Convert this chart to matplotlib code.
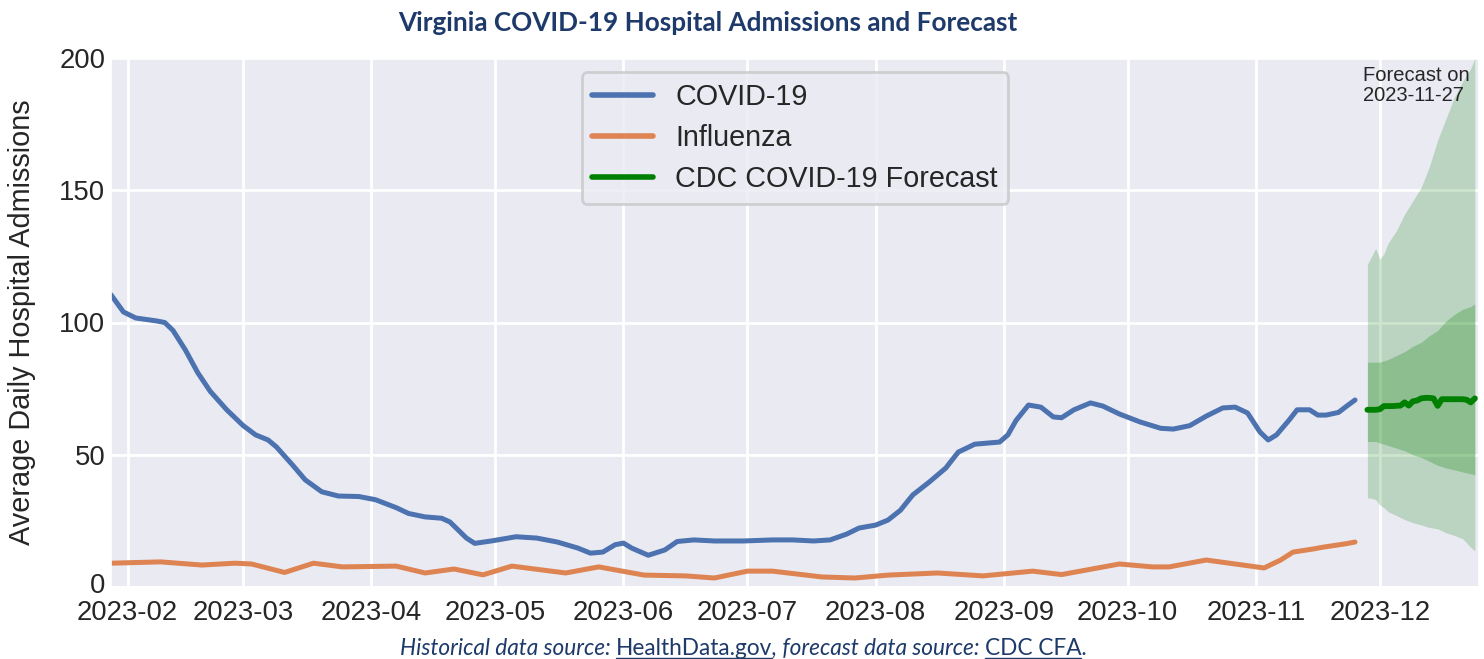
import matplotlib
matplotlib.use("Agg")
import matplotlib.pyplot as plt
import matplotlib.dates as mdates
import matplotlib.transforms as mtransforms
from matplotlib.lines import Line2D
import pandas as pd
import seaborn as sns

# ---------------- data ----------------
covid_dates = ["2023-01-28", "2023-01-31", "2023-02-03", "2023-02-08", "2023-02-10", "2023-02-12",
               "2023-02-15", "2023-02-18", "2023-02-21", "2023-02-25", "2023-03-01", "2023-03-04",
               "2023-03-07", "2023-03-09", "2023-03-13", "2023-03-16", "2023-03-20", "2023-03-24",
               "2023-03-29", "2023-04-02", "2023-04-07", "2023-04-10", "2023-04-14", "2023-04-18",
               "2023-04-20", "2023-04-24", "2023-04-26", "2023-04-30", "2023-05-06", "2023-05-11",
               "2023-05-16", "2023-05-21", "2023-05-24", "2023-05-27", "2023-05-30", "2023-06-01",
               "2023-06-03", "2023-06-07", "2023-06-11", "2023-06-14", "2023-06-18", "2023-06-23",
               "2023-06-30", "2023-07-07", "2023-07-12", "2023-07-17", "2023-07-21", "2023-07-25",
               "2023-07-28", "2023-08-01", "2023-08-04", "2023-08-07", "2023-08-10", "2023-08-14",
               "2023-08-18", "2023-08-21", "2023-08-25", "2023-08-31", "2023-09-02", "2023-09-04",
               "2023-09-07", "2023-09-10", "2023-09-13", "2023-09-15", "2023-09-18", "2023-09-22",
               "2023-09-25", "2023-09-29", "2023-10-04", "2023-10-09", "2023-10-12", "2023-10-16",
               "2023-10-20", "2023-10-24", "2023-10-27", "2023-10-30", "2023-11-02", "2023-11-04",
               "2023-11-06", "2023-11-09", "2023-11-11", "2023-11-14", "2023-11-16", "2023-11-18",
               "2023-11-21", "2023-11-23", "2023-11-25"]
covid_values = [110.5, 104, 101.7, 100.6, 100, 97,
                89.6, 81, 74, 67, 61, 57.5,
                55.6, 53, 46, 40.5, 36, 34.4,
                34.2, 33, 30, 27.8, 26.5, 26,
                24.6, 18.5, 16.5, 17.4, 19, 18.5,
                17, 14.7, 12.8, 13.2, 16, 16.6,
                14.7, 12, 14, 17.2, 17.8, 17.4,
                17.4, 17.8, 17.8, 17.4, 17.8, 20,
                22.3, 23.4, 25.3, 29, 34.8, 39.7,
                45, 51, 54, 54.8, 57.5, 63,
                68.8, 68, 64.3, 64, 67, 69.6,
                68.4, 65.4, 62.4, 60, 59.7, 61,
                64.6, 67.7, 68, 65.8, 58.6, 55.6,
                57.5, 63, 67, 67, 65, 65,
                66, 68.4, 70.7]

flu_dates = ["2023-01-28", "2023-02-09", "2023-02-19", "2023-02-27", "2023-03-03", "2023-03-11",
             "2023-03-18", "2023-03-25", "2023-04-07", "2023-04-14", "2023-04-21", "2023-04-28",
             "2023-05-05", "2023-05-18", "2023-05-26", "2023-06-06", "2023-06-16", "2023-06-23",
             "2023-07-01", "2023-07-07", "2023-07-19", "2023-07-27", "2023-08-04", "2023-08-16",
             "2023-08-27", "2023-09-08", "2023-09-15", "2023-09-29", "2023-10-07", "2023-10-11",
             "2023-10-20", "2023-11-03", "2023-11-07", "2023-11-10", "2023-11-15", "2023-11-17",
             "2023-11-23", "2023-11-25"]
flu_values = [9, 9.5, 8.3, 9, 8.7, 5.5,
              9, 7.6, 7.9, 5.3, 6.8, 4.6,
              7.9, 5.3, 7.6, 4.5, 4.2, 3.4,
              6, 6, 3.8, 3.4, 4.5, 5.3,
              4.2, 6, 4.7, 8.7, 7.6, 7.6,
              10.2, 7.2, 10.2, 13.2, 14.4, 15,
              16.4, 17]

fc_dates = ["2023-11-28", "2023-11-30", "2023-12-01", "2023-12-02", "2023-12-04", "2023-12-05",
            "2023-12-06", "2023-12-07", "2023-12-08", "2023-12-09", "2023-12-10", "2023-12-11",
            "2023-12-12", "2023-12-13", "2023-12-14", "2023-12-15", "2023-12-16", "2023-12-17",
            "2023-12-19", "2023-12-21", "2023-12-22", "2023-12-23", "2023-12-24"]
fc_median = [67, 67, 67.2, 68.4, 68.4, 68.5,
             68.6, 69.8, 68.6, 70.2, 70.5, 71.3,
             71.5, 71.5, 71.3, 68.5, 71, 71,
             71, 71, 70.8, 69.8, 71.3]

band_dates = ["2023-11-28", "2023-11-29", "2023-11-30", "2023-12-01", "2023-12-02", "2023-12-03",
              "2023-12-05", "2023-12-07", "2023-12-09", "2023-12-11", "2023-12-13", "2023-12-15",
              "2023-12-17", "2023-12-19", "2023-12-21", "2023-12-23", "2023-12-24"]
outer_upper = [122, 125, 128, 124, 126, 130, 134.6, 141, 146, 151, 159, 169, 177, 185, 191, 196, 200]
outer_lower = [33.7, 33.5, 33, 31, 30, 28.5, 27, 25.5, 24.3, 23.5, 22.5, 22, 20.5, 19.5, 18.3, 15, 13.6]
inner_upper = [85, 85, 85, 85, 85.5, 86, 87.5, 89, 91, 92.5, 95, 97, 100.5, 103, 105, 106, 107]
inner_lower = [55, 55, 55, 54.4, 54, 53.5, 52.5, 51.5, 50, 49, 47.5, 46, 45, 44.3, 43.5, 42.8, 42.4]

title = "Virginia COVID-19 Hospital Admissions and Forecast"
ylabel = "Average Daily Hospital Admissions"
forecast_label = "Forecast on\n2023-11-27"
x_start, x_end = "2023-01-28", "2023-12-25"
y_ticks = [0, 50, 100, 150, 200]

# ---------------- style ----------------
sns.set_theme(style="darkgrid")
plt.rcParams['font.family'] = ['Liberation Sans', 'DejaVu Sans']
NAVY = '#1d3a6a'
TEXT = '#262626'

fig = plt.figure(figsize=(14.84, 6.59), dpi=100)
ax = fig.add_axes([111/1484, 1 - 587/659, (1479 - 111)/1484, (587 - 58)/659])
ax.set_facecolor('#eaeaf2')
ax.grid(True, color='white', linewidth=2)

cd = pd.to_datetime(covid_dates)
fd = pd.to_datetime(flu_dates)
fcd = pd.to_datetime(fc_dates)
bd = pd.to_datetime(band_dates)

ax.fill_between(bd, outer_lower, outer_upper, color='green', alpha=0.2, linewidth=0)
ax.fill_between(bd, inner_lower, inner_upper, color='green', alpha=0.25, linewidth=0)

l1, = ax.plot(cd, covid_values, color='#4c72b0', linewidth=3.6, solid_capstyle='round',
              solid_joinstyle='round', label='COVID-19')
l2, = ax.plot(fd, flu_values, color='#dd8452', linewidth=3.6, solid_capstyle='round',
              solid_joinstyle='round', label='Influenza')
l3, = ax.plot(fcd, fc_median, color='green', linewidth=4.2, solid_joinstyle='round',
              label='CDC COVID-19 Forecast')

ax.set_xlim(pd.Timestamp(x_start), pd.Timestamp(x_end))
ax.set_ylim(0, 200)
ax.set_yticks(y_ticks)
ax.xaxis.set_major_locator(mdates.MonthLocator())
ax.xaxis.set_major_formatter(mdates.DateFormatter('%Y-%m'))
ax.tick_params(axis='both', labelsize=19.8, colors=TEXT, length=0)
ax.tick_params(axis='x', pad=9)
ax.tick_params(axis='y', pad=4)
ax.set_ylabel(ylabel, fontsize=20.8, color=TEXT, labelpad=17)

# nudge the "0" label up a little so it does not collide with the first date label
zero_lbl = ax.yaxis.get_major_ticks()[0].label1
zero_lbl.set_transform(zero_lbl.get_transform() +
                       mtransforms.ScaledTranslation(0, 0.04, fig.dpi_scale_trans))

ax.text(pd.Timestamp("2023-11-27"), 197, forecast_label, fontsize=14.5, color=TEXT,
        ha='left', va='top', linespacing=1.1)

leg = ax.legend(handles=[l1, l2, l3], loc='upper center', fontsize=20.7, frameon=True,
                handlelength=2.1, borderpad=0.38, labelspacing=0.44, handletextpad=0.77)
leg.get_frame().set_facecolor('#eaeaf2')
leg.get_frame().set_edgecolor('#c8c8c8')
leg.get_frame().set_linewidth(2)
for h in leg.get_lines():
    h.set_linewidth(4)

fig.text(707.5 / 1484, 1 - 31/659, title, ha='center', va='baseline', fontsize=18.8,
         fontweight='bold', color=NAVY, family=['Lato', 'DejaVu Sans'])

# ---------------- caption with mixed styles ----------------
parts = [("Historical data source: ", 'italic', False),
         ("HealthData.gov", 'normal', True),
         (", forecast data source: ", 'italic', False),
         ("CDC CFA", 'normal', True),
         (".", 'italic', False)]
cap_size = 16.3
fig.canvas.draw()
r = fig.canvas.get_renderer()

def width_of(s, style):
    t1 = fig.text(0, 0, s + "|", fontsize=cap_size, style=style, family=['Lato', 'DejaVu Sans'])
    t2 = fig.text(0, 0, "|", fontsize=cap_size, style=style, family=['Lato', 'DejaVu Sans'])
    w = t1.get_window_extent(r).width - t2.get_window_extent(r).width
    t1.remove(); t2.remove()
    return w

widths = [width_of(s, st) for s, st, _ in parts]
total = sum(widths)
x = 1484 / 2 - total / 2 + 1
y_pix = 659 - 655
for (s, st, ul), w in zip(parts, widths):
    fig.text(x / 1484, y_pix / 659, s, fontsize=cap_size, style=st, color=NAVY,
             ha='left', va='baseline', family=['Lato', 'DejaVu Sans'])
    if ul:
        fig.add_artist(Line2D([x / 1484, (x + w) / 1484], [(y_pix - 2.5) / 659] * 2,
                              color=NAVY, linewidth=1.0, transform=fig.transFigure))
    x += w

fig.savefig("out.png", dpi=100)
